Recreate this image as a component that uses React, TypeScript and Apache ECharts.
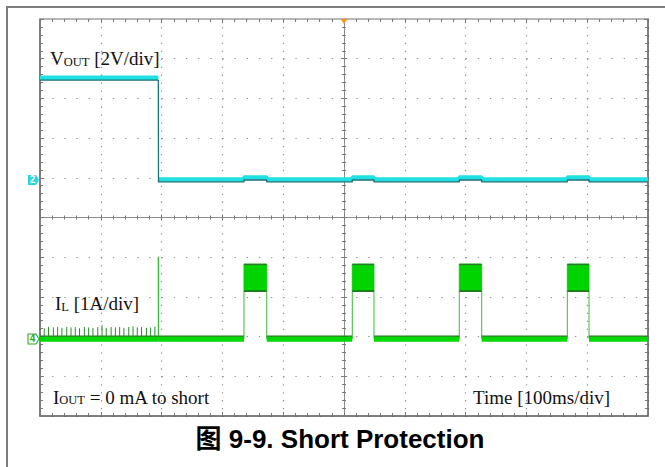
import React, { useEffect, useRef } from "react";
import * as echarts from "echarts";

// ---- Scope setup ----
const TIME_MIN = 0; // ms
const TIME_MAX = 1000; // ms (100 ms/div, 10 div)
const TIME_STEP = 100;
const DIV_MIN = -5; // 10 vertical divisions
const DIV_MAX = 5;
const VOUT_SCALE = 2; // V/div
const VOUT_GROUND_DIV = 0.945;
const IL_SCALE = 1; // A/div
const IL_GROUND_DIV = -3.06;

// ---- VOUT trace (ms, V) ----
const VOUT_TIME = [0, 194.6, 194.9, 335.5, 335.5, 372.9, 372.9, 513.6, 513.6, 549.3, 549.3, 689.6, 689.6, 726.5, 726.5, 867.3, 867.3, 903, 903, 1000];
const VOUT_VALUE = [5.15, 5.15, 0.02, 0.02, 0.12, 0.12, 0.02, 0.02, 0.12, 0.12, 0.02, 0.02, 0.12, 0.12, 0.02, 0.02, 0.12, 0.12, 0.02, 0.02];
const VOUT_FALL_INDEX = 1;
const VOUT_LOWER_ENVELOPE = 0.12; // V below trace centre

// ---- IL trace (ms, A) ----
const IL_TIME = [0, 194.6, 194.6, 194.9, 335.5, 335.5, 372.9, 372.9, 513.6, 513.6, 549.3, 549.3, 689.6, 689.6, 726.5, 726.5, 867.3, 867.3, 903, 903, 1000];
const IL_VALUE = [0, 0, 2.07, 0, 0, 1.89, 1.89, 0, 0, 1.89, 1.89, 0, 0, 1.89, 1.89, 0, 0, 1.89, 1.89, 0, 0];
const IL_UPPER_ENVELOPE = 0.07;

// hiccup pulses (ripple band)
const PULSE_START = [335.5, 513.6, 689.6, 867.3];
const PULSE_END = [372.9, 549.3, 726.5, 903];
const PULSE_LOW = 1.19;
const PULSE_HIGH = 1.89;

// switching spikes before the short
const SPIKE_TIME = [7, 14, 22, 29, 36, 44, 51, 58, 65, 73, 80, 87, 95, 102, 109, 117, 124, 131, 138, 146, 153, 160, 167, 175, 182, 189];
const SPIKE_VALUE = [0.27, 0.3, 0.29, 0.3, 0.28, 0.3, 0.29, 0.3, 0.27, 0.3, 0.29, 0.28, 0.3, 0.35, 0.28, 0.3, 0.29, 0.3, 0.28, 0.3, 0.32, 0.29, 0.3, 0.28, 0.29, 0.31];

const SERIF = "'Liberation Serif', 'Times New Roman', serif";
const SANS = "'Liberation Sans', Arial, 'Noto Sans CJK SC', sans-serif";

const FLAG = "path://M0,0 L8,0 L11,4.5 L8,9 L0,9 Z";

function xAxisDef(extra: any) {
  return {
    type: "value",
    min: TIME_MIN,
    max: TIME_MAX,
    interval: TIME_STEP,
    axisLabel: { show: false },
    splitLine: { show: false },
    ...extra,
  };
}
function yAxisDef(extra: any) {
  return {
    type: "value",
    min: DIV_MIN,
    max: DIV_MAX,
    interval: 1,
    axisLabel: { show: false },
    splitLine: { show: false },
    ...extra,
  };
}

export default function App() {
  const ref = useRef<HTMLDivElement>(null);
  useEffect(() => {
    if (!ref.current) return;
    const chart = echarts.init(ref.current, undefined, { renderer: "svg" });

    const voutPts = VOUT_TIME.map((t, i) => [t, VOUT_VALUE[i]]);
    const voutThick: any[] = [];
    voutPts.forEach((p, i) => {
      voutThick.push(p);
      if (i === VOUT_FALL_INDEX) voutThick.push([p[0], "-"]);
    });
    const voutLower = voutPts.map((p) => [p[0], p[1] - VOUT_LOWER_ENVELOPE]);
    const ilPts = IL_TIME.map((t, i) => [t, IL_VALUE[i]]);
    const ilBase = ilPts.map((p) => (p[1] === 0 ? p : [p[0], "-"]));
    const ilBaseUpper = ilPts.map((p) => (p[1] === 0 ? [p[0], IL_UPPER_ENVELOPE] : [p[0], "-"]));

    const tickColor = "#7a7a7a";
    const dotColor = "#8f8f8f";
    const option: any = {
      animation: false,
      backgroundColor: "#ffffff",
      grid: { left: 40, top: 19, width: 608, height: 397, show: false, outerBoundsMode: "none" },
      xAxis: [
        xAxisDef({
          position: "bottom",
          axisLine: { show: true, onZero: false, lineStyle: { color: "#555", width: 1.5 } },
          axisTick: { show: true, inside: true, length: 4, lineStyle: { color: tickColor } },
          minorTick: { show: true, splitNumber: 5, length: 3, lineStyle: { color: tickColor } },
          splitLine: { show: true, lineStyle: { color: dotColor, width: 1.2, type: [1.3, 6.64] } },
        }),
        xAxisDef({
          position: "top",
          axisLine: { show: true, onZero: false, lineStyle: { color: "#a0a0a0", width: 1.5 } },
          axisTick: { show: true, inside: true, length: 4, lineStyle: { color: tickColor } },
          minorTick: { show: true, splitNumber: 5, length: 3, lineStyle: { color: tickColor } },
        }),
        xAxisDef({
          position: "bottom",
          offset: -198.5,
          axisLine: { show: true, onZero: false, lineStyle: { color: "#8c8c8c", width: 1 } },
          axisTick: { show: true, inside: true, length: 3, lineStyle: { color: tickColor } },
          minorTick: { show: true, splitNumber: 5, length: 2, lineStyle: { color: tickColor } },
        }),
        xAxisDef({
          position: "bottom",
          offset: -198.5,
          axisLine: { show: false, onZero: false },
          axisTick: { show: true, inside: false, length: 3, lineStyle: { color: tickColor } },
          minorTick: { show: true, splitNumber: 5, length: 2, lineStyle: { color: tickColor } },
        }),
      ],
      yAxis: [
        yAxisDef({
          position: "left",
          axisLine: { show: true, onZero: false, lineStyle: { color: "#555", width: 1.5 } },
          axisTick: { show: true, inside: true, length: 4, lineStyle: { color: tickColor } },
          minorTick: { show: true, splitNumber: 5, length: 3, lineStyle: { color: tickColor } },
          splitLine: { show: true, lineStyle: { color: dotColor, width: 1.2, type: [1.3, 10.86] } },
        }),
        yAxisDef({
          position: "right",
          axisLine: { show: true, onZero: false, lineStyle: { color: "#555", width: 1.5 } },
          axisTick: { show: true, inside: true, length: 4, lineStyle: { color: tickColor } },
          minorTick: { show: true, splitNumber: 5, length: 3, lineStyle: { color: tickColor } },
        }),
        yAxisDef({
          position: "left",
          offset: -304,
          axisLine: { show: true, onZero: false, lineStyle: { color: "#8c8c8c", width: 1 } },
          axisTick: { show: true, inside: true, length: 3, lineStyle: { color: tickColor } },
          minorTick: { show: true, splitNumber: 5, length: 2, lineStyle: { color: tickColor } },
        }),
        yAxisDef({
          position: "left",
          offset: -304,
          axisLine: { show: false, onZero: false },
          axisTick: { show: true, inside: false, length: 3, lineStyle: { color: tickColor } },
          minorTick: { show: true, splitNumber: 5, length: 2, lineStyle: { color: tickColor } },
        }),
        {
          type: "value",
          show: false,
          min: (DIV_MIN - VOUT_GROUND_DIV) * VOUT_SCALE,
          max: (DIV_MAX - VOUT_GROUND_DIV) * VOUT_SCALE,
        },
        {
          type: "value",
          show: false,
          min: (DIV_MIN - IL_GROUND_DIV) * IL_SCALE,
          max: (DIV_MAX - IL_GROUND_DIV) * IL_SCALE,
        },
      ],
      series: [
        {
          name: "VOUT",
          type: "line",
          xAxisIndex: 0,
          yAxisIndex: 4,
          data: voutThick,
          symbol: "none",
          connectNulls: false,
          lineStyle: { color: "#1fe0e2", width: 4.5 },
          z: 3,
          markPoint: {
            silent: true,
            animation: false,
            data: [
              {
                coord: [TIME_MIN, 0],
                symbol: FLAG,
                symbolSize: [11, 10],
                symbolOffset: [-6.5, 0],
                symbolKeepAspect: false,
                itemStyle: { color: "#27d3e0" },
                label: { show: true, position: "inside", formatter: "2", color: "#ffffff", fontSize: 10, fontWeight: "bold", fontFamily: SANS, offset: [-1, 0] },
              },
              {
                coord: [500, (DIV_MAX - VOUT_GROUND_DIV) * VOUT_SCALE],
                symbol: "triangle",
                symbolRotate: 180,
                symbolSize: [7, 5],
                symbolOffset: [0, 2.5],
                itemStyle: { color: "#f7941d" },
                label: { show: false },
              },
            ],
          },
        },
        {
          name: "VOUT envelope",
          type: "line",
          xAxisIndex: 0,
          yAxisIndex: 4,
          data: voutLower,
          symbol: "none",
          lineStyle: { color: "#1d7274", width: 1.3 },
          z: 4,
        },
        {
          name: "IL",
          type: "line",
          xAxisIndex: 0,
          yAxisIndex: 5,
          data: ilPts,
          symbol: "none",
          lineStyle: { color: "#3dbb3d", width: 1 },
          z: 3,
        },
        {
          name: "IL spikes",
          type: "custom",
          coordinateSystem: "cartesian2d",
          xAxisIndex: 0,
          yAxisIndex: 5,
          data: SPIKE_TIME.map((t, i) => [t, SPIKE_VALUE[i]]),
          encode: { x: 0, y: 1 },
          z: 3,
          renderItem: (_p: any, api: any) => {
            const a = api.coord([api.value(0), 0]);
            const b = api.coord([api.value(0), api.value(1)]);
            return {
              type: "line",
              shape: { x1: a[0], y1: a[1], x2: b[0], y2: b[1] },
              style: { stroke: "#2f8a2f", lineWidth: 1 },
            };
          },
        },
        {
          name: "IL baseline",
          type: "line",
          xAxisIndex: 0,
          yAxisIndex: 5,
          data: ilBase,
          symbol: "none",
          connectNulls: false,
          lineStyle: { color: "#00d800", width: 5.5 },
          z: 4,
          markPoint: {
            silent: true,
            animation: false,
            data: [
              {
                coord: [TIME_MIN, 0],
                symbol: FLAG,
                symbolSize: [11, 10],
                symbolOffset: [-6.5, 0],
                symbolKeepAspect: false,
                itemStyle: { color: "#ffffff", borderColor: "#2aa82a", borderWidth: 1 },
                label: { show: true, position: "inside", formatter: "4", color: "#2aa82a", fontSize: 10, fontWeight: "bold", fontFamily: SANS, offset: [-1, 0] },
              },
            ],
          },
        },
        {
          name: "IL envelope",
          type: "line",
          xAxisIndex: 0,
          yAxisIndex: 5,
          data: ilBaseUpper,
          symbol: "none",
          connectNulls: false,
          lineStyle: { color: "#1f7a1f", width: 1.2 },
          z: 5,
        },
        {
          name: "IL pulses",
          type: "custom",
          coordinateSystem: "cartesian2d",
          xAxisIndex: 0,
          yAxisIndex: 5,
          data: PULSE_START.map((s, i) => [s, PULSE_END[i], PULSE_LOW, PULSE_HIGH]),
          encode: { x: [0, 1], y: [2, 3] },
          z: 5,
          renderItem: (_p: any, api: any) => {
            const tl = api.coord([api.value(0), api.value(3)]);
            const br = api.coord([api.value(1), api.value(2)]);
            return {
              type: "group",
              children: [
                {
                  type: "rect",
                  shape: { x: tl[0], y: tl[1], width: br[0] - tl[0], height: br[1] - tl[1] },
                  style: { fill: "#00d400" },
                },
                {
                  type: "line",
                  shape: { x1: tl[0], y1: tl[1] + 0.6, x2: br[0], y2: tl[1] + 0.6 },
                  style: { stroke: "#2b7a2b", lineWidth: 1.2 },
                },
                {
                  type: "line",
                  shape: { x1: tl[0], y1: br[1] - 0.6, x2: br[0], y2: br[1] - 0.6 },
                  style: { stroke: "#1e5f1e", lineWidth: 1.4 },
                },
              ],
            };
          },
        },
      ],
      graphic: [
        {
          type: "rect",
          silent: true,
          shape: { x: 7, y: 7, width: 700, height: 500 },
          style: { fill: "none", stroke: "#7d7d7d", lineWidth: 2 },
        },
        {
          type: "text",
          x: 50,
          y: 49,
          style: {
            text: "{m|V}{s|OUT}{m| [2V/div]}",
            align: "left",
            verticalAlign: "top",
            rich: {
              m: { fontSize: 19, lineHeight: 19, fontFamily: SERIF, fill: "#111", verticalAlign: "bottom" },
              s: { fontSize: 12.5, lineHeight: 14.5, fontFamily: SERIF, fill: "#111", verticalAlign: "bottom" },
            },
          },
        },
        {
          type: "text",
          x: 55,
          y: 294,
          style: {
            text: "{m|I}{s|L}{m| [1A/div]}",
            align: "left",
            verticalAlign: "top",
            rich: {
              m: { fontSize: 19, lineHeight: 19, fontFamily: SERIF, fill: "#111", verticalAlign: "bottom" },
              s: { fontSize: 12.5, lineHeight: 14.5, fontFamily: SERIF, fill: "#111", verticalAlign: "bottom" },
            },
          },
        },
        {
          type: "text",
          x: 53,
          y: 387.8,
          style: {
            text: "{m|I}{s|OUT}{m| = 0 mA to short}",
            align: "left",
            verticalAlign: "top",
            rich: {
              m: { fontSize: 19, lineHeight: 19, fontFamily: SERIF, fill: "#111", verticalAlign: "bottom" },
              s: { fontSize: 12.5, lineHeight: 14.5, fontFamily: SERIF, fill: "#111", verticalAlign: "bottom" },
            },
          },
        },
        {
          type: "text",
          x: 473,
          y: 387.8,
          style: {
            text: "{m|Time [100ms/div]}",
            align: "left",
            verticalAlign: "top",
            rich: {
              m: { fontSize: 19, lineHeight: 19, fontFamily: SERIF, fill: "#111", verticalAlign: "bottom" },
            },
          },
        },
        {
          type: "text",
          x: 340,
          y: 438.5,
          style: {
            text: "图 9-9. Short Protection",
            align: "center",
            verticalAlign: "middle",
            fontSize: 26,
            fontWeight: "bold",
            fontFamily: SANS,
            fill: "#000",
          },
        },
      ],
    };
    chart.setOption(option);
    return () => chart.dispose();
  }, []);
  return (
    <div
      ref={ref}
      style={{ position: "fixed", left: 0, top: 0, width: 665, height: 467, background: "#fff" }}
    />
  );
}
